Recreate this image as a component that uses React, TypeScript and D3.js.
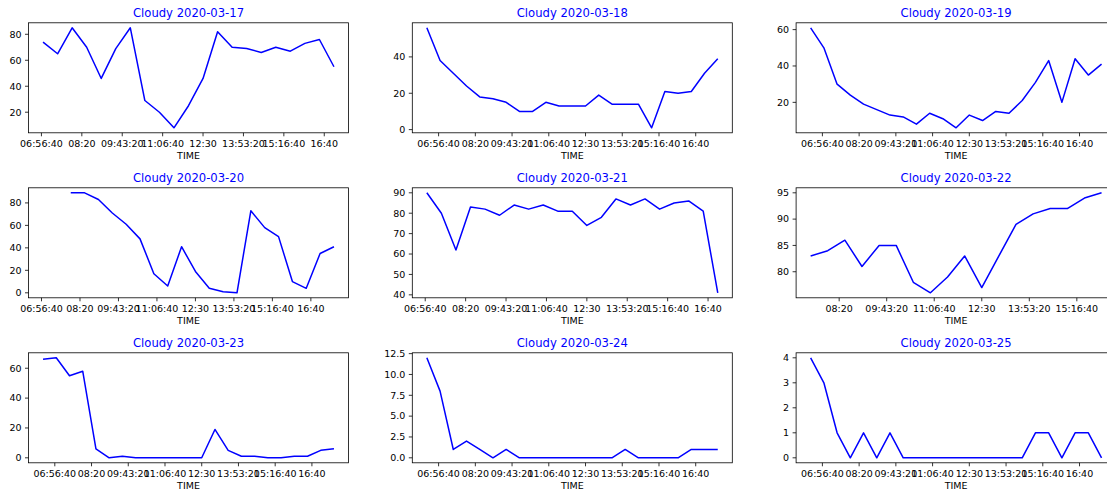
import React from "react";
import * as d3 from "d3";

// half-hour slots used by the sensor readings
const SLOTS = [
  "06:30", "07:00", "07:30", "08:00", "08:30", "09:00", "09:30", "10:00",
  "10:30", "11:00", "11:30", "12:00", "12:30", "13:00", "13:30", "14:00",
  "14:30", "15:00", "15:30", "16:00", "16:30", "17:00", "17:30",
];

const DATES = [
  "2020-03-17", "2020-03-18", "2020-03-19",
  "2020-03-20", "2020-03-21", "2020-03-22",
  "2020-03-23", "2020-03-24", "2020-03-25",
];

// first slot of each day
const START = ["07:00", "06:30", "06:30", "07:00", "07:00", "07:30", "06:30", "06:30", "06:30"];

const V17 = [74, 65, 85, 70, 46, 69, 85, 29, 20, 8, 25, 46, 82, 70, 69, 66, 70, 67, 73, 76, 55];
const V18 = [56, 38, 31, 24, 18, 17, 15, 10, 10, 15, 13, 13, 13, 19, 14, 14, 14, 1, 21, 20, 21, 31, 39];
const V19 = [61, 50, 30, 24, 19, 16, 13, 12, 8, 14, 11, 6, 13, 10, 15, 14, 21, 31, 43, 20, 44, 35, 41];
const V20 = [null, null, 89, 89, 83, 71, 61, 48, 17, 6, 41, 19, 4, 1, 0, 73, 58, 50, 10, 4, 35, 41];
const V21 = [90, 80, 62, 83, 82, 79, 84, 82, 84, 81, 81, 74, 78, 87, 84, 87, 82, 85, 86, 81, 41];
const V22 = [83, 84, 86, 81, 85, 85, 78, 76, 79, 83, 77, 83, 89, 91, 92, 92, 94, 95];
const V23 = [66, 67, 55, 58, 6, 0, 1, 0, 0, 0, 0, 0, 0, 19, 5, 1, 1, 0, 0, 1, 1, 5, 6];
const V24 = [12, 8, 1, 2, 1, 0, 1, 0, 0, 0, 0, 0, 0, 0, 0, 1, 0, 0, 0, 0, 1, 1, 1];
const V25 = [4, 3, 1, 0, 1, 0, 1, 0, 0, 0, 0, 0, 0, 0, 0, 0, 0, 1, 1, 0, 1, 1, 0];
const SERIES: (number | null)[][] = [V17, V18, V19, V20, V21, V22, V23, V24, V25];

const Y_TICKS = [
  [20, 40, 60, 80],
  [0, 20, 40],
  [20, 40, 60],
  [0, 20, 40, 60, 80],
  [40, 50, 60, 70, 80, 90],
  [80, 85, 90, 95],
  [0, 20, 40, 60],
  [0, 2.5, 5, 7.5, 10, 12.5],
  [0, 1, 2, 3, 4],
];

// x ticks in seconds of the day
const X_TICKS = [25000, 30000, 35000, 40000, 45000, 50000, 55000, 60000];
const X_LABELS = ["06:56:40", "08:20", "09:43:20", "11:06:40", "12:30", "13:53:20", "15:16:40", "16:40"];

const COL_X = [28.5, 412.3, 796.1];
const ROW_Y = [22.8, 187.8, 352.8];
const W = 320;
const H = 110;
const FONT = "DejaVu Sans, sans-serif";
const TICK_FS = 9.5;

const toSec = (s: string) => {
  const [h, m] = s.split(":").map(Number);
  return h * 3600 + m * 60;
};

const Panel = ({ i }: { i: number }) => {
  const left = COL_X[i % 3];
  const top = ROW_Y[Math.floor(i / 3)];
  const vals = SERIES[i];
  const s0 = SLOTS.indexOf(START[i]);
  const times = SLOTS.slice(s0, s0 + vals.length).map(toSec);
  const pts = times.map((t, k) => ({ t, v: vals[k] }));

  const [t0, t1] = d3.extent(times) as [number, number];
  const tpad = (t1 - t0) * 0.05;
  const x = d3.scaleLinear().domain([t0 - tpad, t1 + tpad]).range([left, left + W]);

  const defined = vals.filter((v) => v != null) as number[];
  const [v0, v1] = d3.extent(defined) as [number, number];
  const vpad = (v1 - v0) * 0.05;
  const y = d3.scaleLinear().domain([v0 - vpad, v1 + vpad]).range([top + H, top]);

  const line = d3
    .line<{ t: number; v: number | null }>()
    .defined((d) => d.v != null)
    .x((d) => x(d.t))
    .y((d) => y(d.v as number));

  const yt = Y_TICKS[i];
  const decimals = yt.some((v) => !Number.isInteger(v));
  const [xd0, xd1] = x.domain();

  return (
    <g>
      <text x={left + W / 2} y={top - 6} textAnchor="middle" fontSize={11.6} fill="blue" fontFamily={FONT}>
        Cloudy {DATES[i]}
      </text>
      <path d={line(pts) ?? ""} fill="none" stroke="blue" strokeWidth={1.5} strokeLinejoin="round" />
      {X_TICKS.map((t, k) =>
        t >= xd0 && t <= xd1 ? (
          <g key={t}>
            <line x1={x(t)} x2={x(t)} y1={top + H} y2={top + H + 3.5} stroke="#000" strokeWidth={0.8} />
            <text x={x(t)} y={top + H + 14.6} textAnchor="middle" fontSize={TICK_FS} fontFamily={FONT} fill="#000">
              {X_LABELS[k]}
            </text>
          </g>
        ) : null
      )}
      {yt.map((v) => (
        <g key={v}>
          <line x1={left - 3.5} x2={left} y1={y(v)} y2={y(v)} stroke="#000" strokeWidth={0.8} />
          <text x={left - 7} y={y(v)} dy="0.35em" textAnchor="end" fontSize={TICK_FS} fontFamily={FONT} fill="#000">
            {decimals ? v.toFixed(1) : v}
          </text>
        </g>
      ))}
      <rect x={left} y={top} width={W} height={H} fill="none" stroke="#000" strokeWidth={0.8} />
      <text x={left + W / 2} y={top + H + 26} textAnchor="middle" fontSize={TICK_FS} fontFamily={FONT} fill="#000">
        TIME
      </text>
    </g>
  );
};

export default function App() {
  return (
    <svg width={1107} height={490} style={{ position: "absolute", left: 0, top: 0, background: "#fff" }}>
      {DATES.map((_, i) => (
        <Panel key={i} i={i} />
      ))}
    </svg>
  );
}
